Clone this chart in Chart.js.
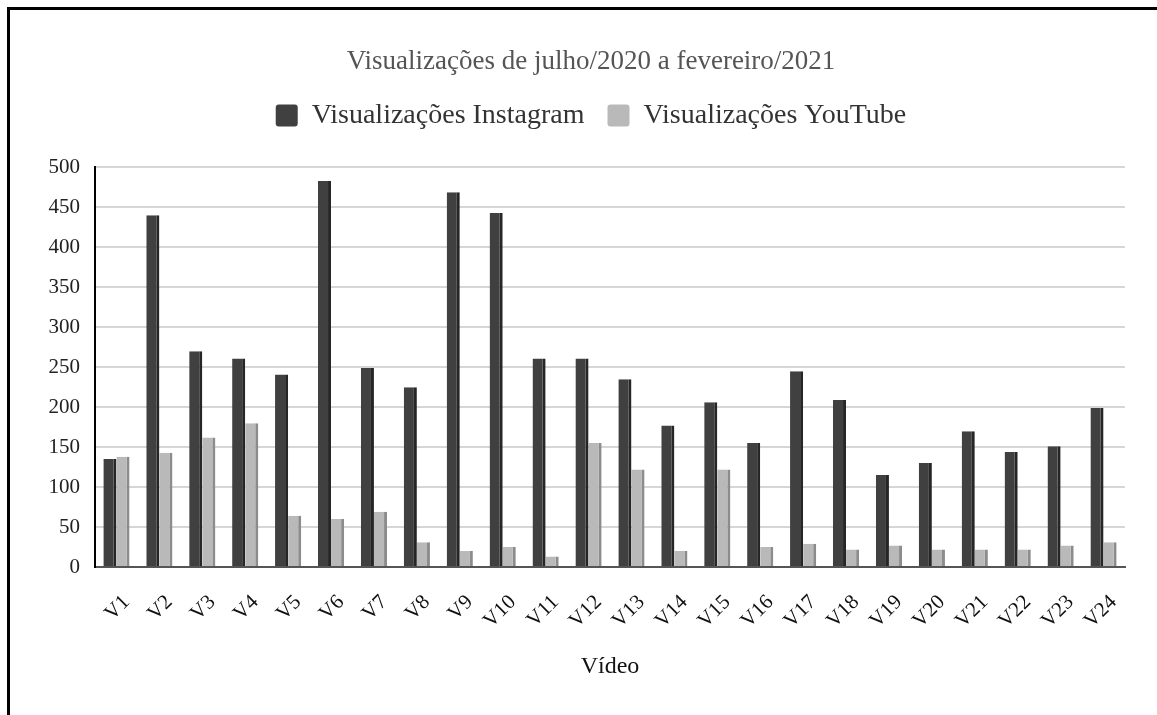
<!DOCTYPE html>
<html lang="pt">
<head>
<meta charset="utf-8">
<title>Visualizações de julho/2020 a fevereiro/2021</title>
<script src="https://cdn.jsdelivr.net/npm/chart.js@4/dist/chart.umd.min.js"></script>
<style>
  html, body { margin: 0; padding: 0; background: #fff; overflow: hidden; }
  #frame {
    position: absolute; left: 7px; top: 7px;
    width: 1147px; height: 705px;
    border-left: 3px solid #000; border-top: 3px solid #000;
  }
  #chart { display: block; }
</style>
</head>
<body>
<div id="frame"><canvas id="chart" width="1162" height="705"></canvas></div>
<script>
const videos = ['V1','V2','V3','V4','V5','V6','V7','V8','V9','V10','V11','V12',
  'V13','V14','V15','V16','V17','V18','V19','V20','V21','V22','V23','V24'];
const instagram = [135, 440, 270, 261, 241, 483, 249, 225, 469, 443, 261, 261,
  235, 177, 206, 155, 245, 209, 115, 130, 170, 144, 151, 199];
const youtube = [138, 143, 162, 180, 64, 60, 69, 31, 20, 25, 13, 155,
  122, 20, 122, 25, 29, 22, 27, 22, 22, 22, 27, 31];
const yTicks = [0, 50, 100, 150, 200, 250, 300, 350, 400, 450, 500];

const serif = "'Liberation Serif', 'Times New Roman', serif";

// espaço extra entre a legenda e a área do gráfico
const legendGap = {
  id: 'legendGap',
  beforeInit(chart) {
    const fit = chart.legend.fit;
    chart.legend.fit = function () {
      fit.call(this);
      this.height += 28;
    };
  }
};

new Chart(document.getElementById('chart'), {
  type: 'bar',
  data: {
    labels: videos,
    datasets: [
      {
        label: 'Visualizações Instagram',
        data: instagram,
        backgroundColor: '#404040',
        borderColor: '#262626',
        borderWidth: { top: 0, right: 3, bottom: 0, left: 0 },
        borderSkipped: false
      },
      {
        label: 'Visualizações YouTube',
        data: youtube,
        backgroundColor: '#b9b9b9',
        borderColor: '#8c8c8c',
        borderWidth: { top: 0, right: 3, bottom: 0, left: 0 },
        borderSkipped: false
      }
    ]
  },
  options: {
    responsive: false,
    animation: false,
    datasets: { bar: { categoryPercentage: 0.61, barPercentage: 1.0 } },
    plugins: {
      title: {
        display: true,
        text: 'Visualizações de julho/2020 a fevereiro/2021',
        color: '#555',
        font: { family: serif, size: 27, weight: 'normal' },
        padding: { top: 36, bottom: 0 }
      },
      legend: {
        position: 'top',
        labels: {
          color: '#333',
          font: { family: serif, size: 28 },
          boxWidth: 22,
          boxHeight: 22,
          padding: 23,
          useBorderRadius: true,
          generateLabels(chart) {
            return chart.data.datasets.map((ds, i) => ({
              text: ds.label,
              fillStyle: ds.backgroundColor,
              strokeStyle: ds.backgroundColor,
              lineWidth: 0,
              borderRadius: 3,
              fontColor: '#333',
              datasetIndex: i
            }));
          }
        }
      },
      tooltip: { enabled: false }
    },
    scales: {
      x: {
        grid: { display: false },
        border: { display: true, color: '#555', width: 2 },
        ticks: {
          color: '#111',
          font: { family: serif, size: 21 },
          maxRotation: 45,
          minRotation: 45,
          padding: 15,
          labelOffset: 10
        },
        title: {
          display: true,
          text: 'Vídeo',
          color: '#111',
          font: { family: serif, size: 24 },
          padding: { top: 0, bottom: 34 }
        },
        afterFit(scale) { scale.height = 148; }
      },
      y: {
        min: 0,
        max: 500,
        afterBuildTicks(scale) { scale.ticks = yTicks.map(v => ({ value: v })); },
        grid: { color: '#d6d6d6', lineWidth: 2, drawTicks: false },
        border: { display: true, color: '#000', width: 2 },
        ticks: {
          color: '#222',
          font: { family: serif, size: 21 },
          padding: 15
        },
        afterFit(scale) { scale.width = 85; }
      },
      // eixo vazio à direita: reserva a margem sem deslocar os títulos
      yRight: {
        position: 'right',
        display: true,
        grid: { display: false, drawTicks: false },
        border: { display: false },
        ticks: { display: false },
        afterFit(scale) { scale.width = 47; }
      }
    }
  },
  plugins: [legendGap]
});
</script>
</body>
</html>
